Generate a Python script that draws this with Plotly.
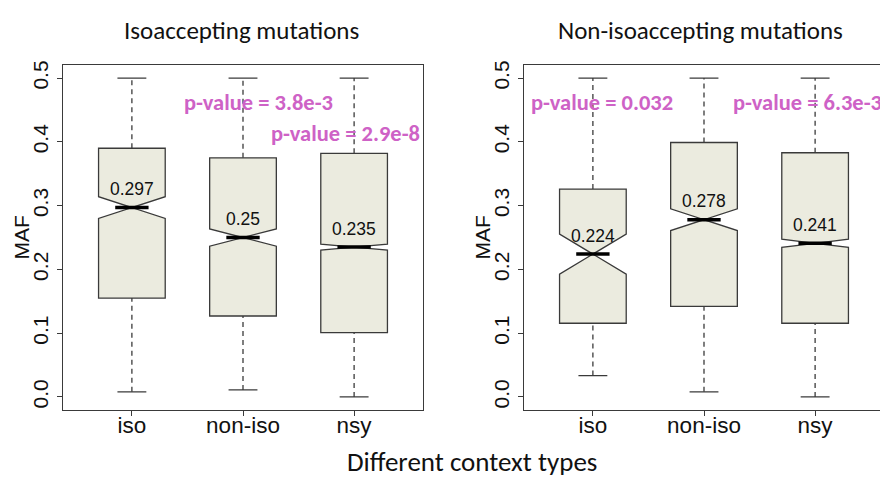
import plotly.graph_objects as go

# ---------------- data ----------------
categories = ["iso", "non-iso", "nsy"]
positions = [1, 2, 3]

# Panel 1: Isoaccepting mutations
iso_lower = [0.008, 0.011, 0.0]
iso_q1 = [0.155, 0.127, 0.101]
iso_median = [0.297, 0.25, 0.235]
iso_q3 = [0.390, 0.375, 0.382]
iso_upper = [0.5, 0.5, 0.5]
iso_notchspan = [0.017, 0.0135, 0.0045]

# Panel 2: Non-isoaccepting mutations
non_lower = [0.0335, 0.008, 0.0]
non_q1 = [0.1156, 0.142, 0.1156]
non_median = [0.224, 0.278, 0.241]
non_q3 = [0.326, 0.399, 0.383]
non_upper = [0.5, 0.5, 0.5]
non_notchspan = [0.0315, 0.017, 0.0065]

y_tick_values = [0.0, 0.1, 0.2, 0.3, 0.4, 0.5]
y_tick_labels = ["0.0", "0.1", "0.2", "0.3", "0.4", "0.5"]

panel_titles = ["Isoaccepting mutations", "Non-isoaccepting mutations"]
x_title = "Different context types"
y_title = "MAF"
iso_pvalues = ["p-value = 3.8e-3", "p-value = 2.9e-8"]
non_pvalues = ["p-value = 0.032", "p-value = 6.3e-3"]

# ---------------- style ----------------
BOX_FILL = "#EBEBDF"
LINE_COL = "#3A3A3A"
PV_COL = "#CE62C6"
ARIAL = "Liberation Sans, Arial, sans-serif"
CALIBRI = "Carlito, Calibri, Lato, sans-serif"
BOX_W = 0.6
CAP_HW = 0.13
MED_HW = 0.15

fig = go.Figure()


def add_panel(xa, ya, lower, q1, med, q3, upper, notch):
    # notched boxes
    fig.add_trace(go.Box(
        x=positions, q1=q1, median=med, q3=q3,
        lowerfence=q1, upperfence=q3, notchspan=notch,
        notched=True, notchwidth=0.5, width=BOX_W, whiskerwidth=0,
        fillcolor=BOX_FILL, line=dict(color=LINE_COL, width=1.3),
        boxpoints=False, showlegend=False, hoverinfo="skip",
        xaxis=xa, yaxis=ya,
    ))
    # dashed whiskers
    wx, wy = [], []
    for p, lo, a, b, hi in zip(positions, lower, q1, q3, upper):
        wx += [p, p, None, p, p, None]
        wy += [lo, a, None, b, hi, None]
    fig.add_trace(go.Scatter(
        x=wx, y=wy, mode="lines", line=dict(color=LINE_COL, width=1.3, dash="5px,4px"),
        showlegend=False, hoverinfo="skip", xaxis=xa, yaxis=ya))
    # staples
    cx, cy = [], []
    for p, lo, hi in zip(positions, lower, upper):
        cx += [p - CAP_HW, p + CAP_HW, None, p - CAP_HW, p + CAP_HW, None]
        cy += [lo, lo, None, hi, hi, None]
    fig.add_trace(go.Scatter(
        x=cx, y=cy, mode="lines", line=dict(color=LINE_COL, width=1.3),
        showlegend=False, hoverinfo="skip", xaxis=xa, yaxis=ya))
    # thick medians
    mx, my = [], []
    for p, m in zip(positions, med):
        mx += [p - MED_HW, p + MED_HW, None]
        my += [m, m, None]
    fig.add_trace(go.Scatter(
        x=mx, y=my, mode="lines", line=dict(color="black", width=3.5),
        showlegend=False, hoverinfo="skip", xaxis=xa, yaxis=ya))
    # median labels
    for p, m in zip(positions, med):
        fig.add_annotation(x=p, y=m, xref=xa, yref=ya, text=f"{m:g}", showarrow=False,
                           yshift=18.5, font=dict(family=ARIAL, size=17.5, color="#111"))


add_panel("x", "y", iso_lower, iso_q1, iso_median, iso_q3, iso_upper, iso_notchspan)
add_panel("x2", "y2", non_lower, non_q1, non_median, non_q3, non_upper, non_notchspan)

axis_common = dict(showgrid=False, zeroline=False, showline=True, linecolor=LINE_COL,
                   linewidth=1.3, ticks="outside", tickcolor=LINE_COL, tickwidth=1,
                   ticklen=5)
xcommon = dict(axis_common, tickvals=positions, ticktext=categories, ticklabelstandoff=-10,
               tickfont=dict(family=ARIAL, size=22.5, color="#111"))
ycommon = dict(axis_common, tickvals=y_tick_values, ticktext=y_tick_labels,
               tickangle=-90, range=[-0.02, 0.52], domain=[69 / 478, 417 / 478],
               tickfont=dict(family=ARIAL, size=21, color="#111"))

fig.update_layout(
    width=880, height=478,
    margin=dict(l=0, r=0, t=0, b=0),
    paper_bgcolor="white", plot_bgcolor="white",
    xaxis=dict(xcommon, domain=[63 / 880, 423 / 880], range=[0.38, 3.62], anchor="y", mirror=True),
    yaxis=dict(ycommon, anchor="x", mirror=True),
    xaxis2=dict(xcommon, domain=[524 / 880, 1.0], range=[0.38, 3.584], anchor="y2", mirror=True),
    yaxis2=dict(ycommon, anchor="x2", mirror=False),
)

# y-axis titles
for xa, ya in (("x", "y"), ("x2", "y2")):
    fig.add_annotation(xref=f"{xa} domain", yref=f"{ya} domain", x=0, y=0.5, xshift=-41,
                       text=y_title, textangle=-90, showarrow=False, xanchor="center",
                       yanchor="middle", font=dict(family=ARIAL, size=21, color="#111"))

# panel titles
fig.add_annotation(xref="paper", yref="paper", x=241.5 / 880, y=1 - 26 / 478, text=panel_titles[0],
                   showarrow=False, xanchor="center", yanchor="middle",
                   font=dict(family=CALIBRI, size=25, color="#111"))
fig.add_annotation(xref="paper", yref="paper", x=700 / 880, y=1 - 26 / 478, text=panel_titles[1],
                   showarrow=False, xanchor="center", yanchor="middle",
                   font=dict(family=CALIBRI, size=25, color="#111"))
# shared x title
fig.add_annotation(xref="paper", yref="paper", x=472 / 880, y=1 - 461 / 478, text=x_title,
                   showarrow=False, xanchor="center", yanchor="middle",
                   font=dict(family=CALIBRI, size=27, color="#111"))

# p-values
pv_font = dict(family=CALIBRI, size=22.5, color=PV_COL, weight="bold")
fig.add_annotation(xref="x", yref="y", x=1.451, y=0.461, text=iso_pvalues[0], showarrow=False,
                   xanchor="left", yanchor="middle", font=pv_font)
fig.add_annotation(xref="x", yref="y", x=2.234, y=0.413, text=iso_pvalues[1], showarrow=False,
                   xanchor="left", yanchor="middle", font=pv_font)
fig.add_annotation(xref="x2", yref="y2", x=0.425, y=0.461, text=non_pvalues[0], showarrow=False,
                   xanchor="left", yanchor="middle", font=pv_font)
fig.add_annotation(xref="x2", yref="y2", x=2.243, y=0.461, text=non_pvalues[1], showarrow=False,
                   xanchor="left", yanchor="middle", font=pv_font)

fig.write_html("out.html", config={"displayModeBar": False},
               post_script="document.body.style.margin='0';")
